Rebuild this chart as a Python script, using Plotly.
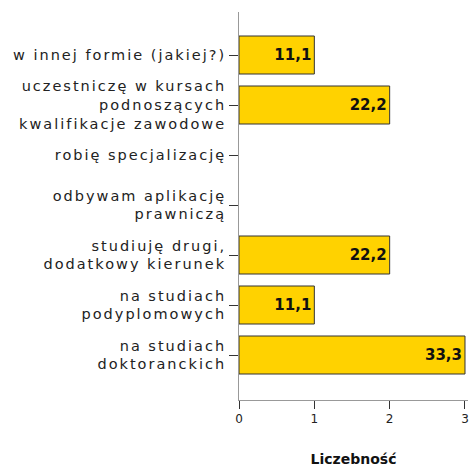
import plotly.graph_objects as go

categories = [
    "w innej formie (jakiej?)",
    "uczestniczę w kursach<br>podnoszących<br>kwalifikacje zawodowe",
    "robię specjalizację",
    "odbywam aplikację<br>prawniczą",
    "studiuję drugi,<br>dodatkowy kierunek",
    "na studiach<br>podyplomowych",
    "na studiach<br>doktoranckich",
]
counts = [1, 2, 0, 0, 2, 1, 3]
percent_labels = ["11,1", "22,2", "", "", "22,2", "11,1", "33,3"]
x_ticks = [0, 1, 2, 3]

fig = go.Figure(go.Bar(
    y=categories,
    x=counts,
    orientation="h",
    marker=dict(color="#FFD200",
                line=dict(color="#333333", width=[1 if c > 0 else 0 for c in counts])),
    text=percent_labels,
    textposition="inside",
    insidetextanchor="end",
    textfont=dict(family="DejaVu Sans", size=15, color="#111111", weight="bold"),
    width=0.76,
    hoverinfo="skip",
))

fig.update_layout(
    width=474, height=469,
    margin=dict(l=239, r=6, t=12, b=69),
    paper_bgcolor="white", plot_bgcolor="white",
    showlegend=False,
    font=dict(family="DejaVu Sans", size=14, color="#222222"),
)
fig.update_yaxes(
    type="category",
    range=[6.9, -0.86],
    showline=True, linecolor="#999999", linewidth=1,
    ticks="outside", ticklen=9, tickcolor="#333333",
    tickfont=dict(size=14.5, color="#222222"),
    showgrid=False, automargin=False,
)
fig.update_xaxes(
    range=[0, 3.04],
    tickvals=x_ticks,
    ticktext=[str(v) for v in x_ticks],
    showline=True, linecolor="#999999", linewidth=1,
    ticks="outside", ticklen=8, tickcolor="#333333",
    tickfont=dict(size=12, color="#222222"),
    showgrid=False, zeroline=False, automargin=False,
    title=dict(text="<b>Liczebność</b>", font=dict(size=14, color="#111111"), standoff=28),
)

post = """
document.body.style.margin='0';
function sp(){document.querySelectorAll('.ytick text').forEach(function(t){t.style.letterSpacing='2px';});}
sp();
var gd=document.getElementsByClassName('plotly-graph-div')[0];
if(gd&&gd.on){gd.on('plotly_afterplot',sp);}
"""
fig.write_html("out.html", post_script=post, config={"displayModeBar": False})
